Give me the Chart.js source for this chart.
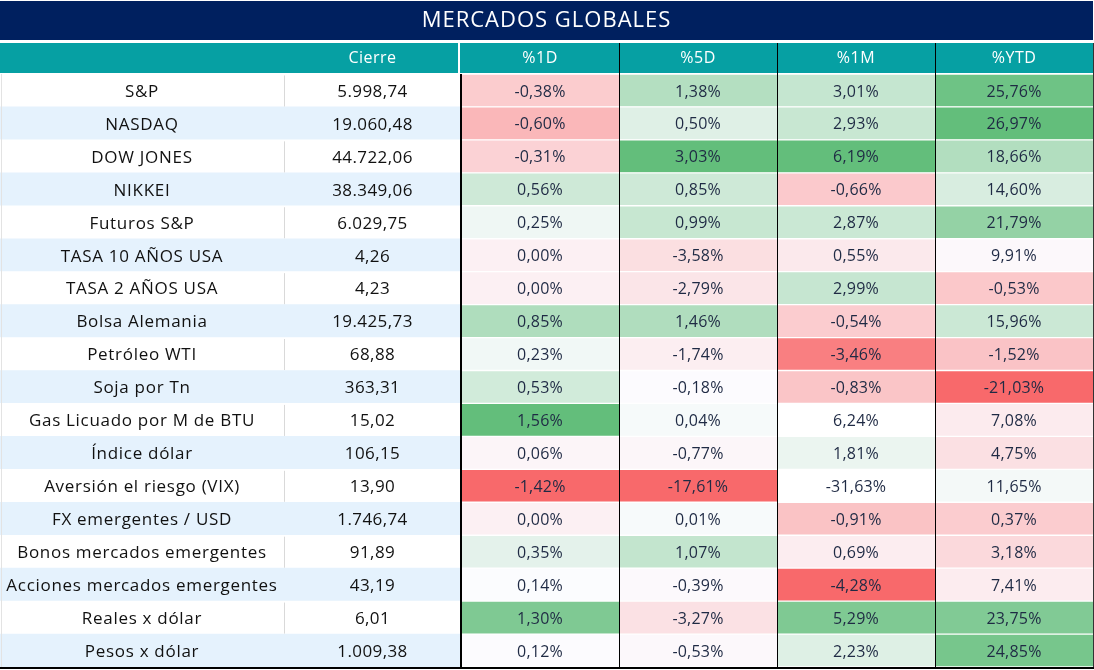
<!DOCTYPE html>
<html>
<head>
<meta charset="utf-8">
<script src="https://cdn.jsdelivr.net/npm/chart.js@4"></script>
<style>
  html, body { margin: 0; padding: 0; background: #fff; }
  canvas { display: block; }
</style>
</head>
<body>
<canvas id="chart" width="1094" height="670"></canvas>
<script>
const title = "MERCADOS GLOBALES";
const headers = ["", "Cierre", "%1D", "%5D", "%1M", "%YTD"];
const names = ["S&P", "NASDAQ", "DOW JONES", "NIKKEI", "Futuros S&P", "TASA 10 AÑOS USA",
  "TASA 2 AÑOS USA", "Bolsa Alemania", "Petróleo WTI", "Soja por Tn", "Gas Licuado por M de BTU",
  "Índice dólar", "Aversión el riesgo (VIX)", "FX emergentes / USD", "Bonos mercados emergentes",
  "Acciones mercados emergentes", "Reales x dólar", "Pesos x dólar"];
const cierre = [5998.74, 19060.48, 44722.06, 38349.06, 6029.75, 4.26, 4.23, 19425.73, 68.88,
  363.31, 15.02, 106.15, 13.90, 1746.74, 91.89, 43.19, 6.01, 1009.38];
const d1 = [-0.38, -0.60, -0.31, 0.56, 0.25, 0.00, 0.00, 0.85, 0.23, 0.53, 1.56, 0.06, -1.42, 0.00, 0.35, 0.14, 1.30, 0.12];
const d5 = [1.38, 0.50, 3.03, 0.85, 0.99, -3.58, -2.79, 1.46, -1.74, -0.18, 0.04, -0.77, -17.61, 0.01, 1.07, -0.39, -3.27, -0.53];
const m1 = [3.01, 2.93, 6.19, -0.66, 2.87, 0.55, 2.99, -0.54, -3.46, -0.83, 6.24, 1.81, -31.63, -0.91, 0.69, -4.28, 5.29, 2.23];
const ytd = [25.76, 26.97, 18.66, 14.60, 21.79, 9.91, -0.53, 15.96, -1.52, -21.03, 7.08, 4.75, 11.65, 0.37, 3.18, 7.41, 23.75, 24.85];
// cells left without colour scale in the original sheet [column, row]
const unformatted = [[2, 10], [2, 12]];

const heat = [d1, d5, m1, ytd];

// layout
const colWidths = [284, 177, 158, 158, 158, 158];
const edges = [0];
colWidths.forEach(w => edges.push(edges[edges.length - 1] + w));
const FONT = '"Open Sans", sans-serif';
const RED = [248, 105, 107], WHITE = [252, 252, 255], GREEN = [99, 190, 123];

function fmtNum(v) {
  const [i, d] = Math.abs(v).toFixed(2).split(".");
  return (v < 0 ? "-" : "") + i.replace(/\B(?=(\d{3})+(?!\d))/g, ".") + "," + d;
}
const fmtPct = v => fmtNum(v) + "%";

function median(arr) {
  const s = [...arr].sort((a, b) => a - b);
  const p = (s.length - 1) / 2;
  const lo = Math.floor(p);
  return s[lo] + (s[Math.ceil(p)] - s[lo]) * (p - lo);
}
function mix(a, b, t) {
  return "rgb(" + a.map((c, i) => Math.round(c + (b[i] - c) * t)).join(",") + ")";
}
// Excel style 3 colour scale: min red, median white, max green
function scaleColors(vals, k) {
  const skip = i => unformatted.some(u => u[0] === k && u[1] === i);
  const used = vals.filter((v, i) => !skip(i));
  const lo = Math.min(...used), hi = Math.max(...used), mid = median(used);
  return vals.map((v, i) => {
    if (skip(i)) return "#ffffff";
    if (v < mid) return mix(WHITE, RED, (mid - v) / (mid - lo));
    return mix(WHITE, GREEN, hi === mid ? 0 : (v - mid) / (hi - mid));
  });
}

const datasets = [{
  data: names.map(() => [edges[0], edges[2]]),
  backgroundColor: names.map((n, i) => i % 2 ? "#e5f2fd" : "#ffffff"),
  borderWidth: 0
}];
heat.forEach((vals, k) => {
  datasets.push({
    data: vals.map(() => [edges[k + 2], edges[k + 3]]),
    backgroundColor: scaleColors(vals, k),
    borderColor: "#ffffff",
    borderWidth: { top: 1, bottom: 1, left: 0, right: 0 },
    borderSkipped: false
  });
});

const tablePlugin = {
  id: "table",
  beforeDraw(chart) {
    const { ctx, chartArea } = chart;
    const x = chart.scales.x;
    ctx.save();
    ctx.fillStyle = "#ffffff";
    ctx.fillRect(0, 0, chart.width, chart.height);
    ctx.fillStyle = "#00205f";
    ctx.fillRect(0, 1, chartArea.right, 39);
    ctx.fillStyle = "#06a0a3";
    ctx.fillRect(0, 43, chartArea.right, 30);
    ctx.fillStyle = "#ffffff";
    ctx.textAlign = "center";
    ctx.textBaseline = "middle";
    ctx.letterSpacing = "1px";
    ctx.font = "500 22px " + FONT;
    ctx.fillText(title, (chartArea.left + chartArea.right) / 2, 21);
    ctx.letterSpacing = "0.5px";
    ctx.font = "500 16px " + FONT;
    headers.forEach((h, c) => {
      if (!h) return;
      ctx.fillText(h, x.getPixelForValue((edges[c] + edges[c + 1]) / 2), 58);
    });
    ctx.fillRect(Math.round(x.getPixelForValue(edges[2])) - 3, 43, 2, 30);
    ctx.restore();
  },
  afterDatasetsDraw(chart) {
    const { ctx, chartArea } = chart;
    const x = chart.scales.x, y = chart.scales.y;
    ctx.save();
    ctx.textAlign = "center";
    ctx.textBaseline = "middle";
    names.forEach((n, i) => {
      const py = y.getPixelForValue(i) + 1.5;
      ctx.fillStyle = "#111111";
      ctx.letterSpacing = "0.7px";
      ctx.font = "500 17px " + FONT;
      ctx.fillText(n, x.getPixelForValue((edges[0] + edges[1]) / 2), py);
      ctx.letterSpacing = "0.4px";
      ctx.fillText(fmtNum(cierre[i]), x.getPixelForValue((edges[1] + edges[2]) / 2), py);
      ctx.fillStyle = "#1f2a44";
      ctx.letterSpacing = "0.2px";
      ctx.font = "500 16px " + FONT;
      heat.forEach((vals, k) => {
        ctx.fillText(fmtPct(vals[i]), x.getPixelForValue((edges[k + 2] + edges[k + 3]) / 2), py);
      });
    });
    // grid lines
    const vline = (px, top, color, w) => {
      ctx.fillStyle = color;
      ctx.fillRect(Math.round(px) - Math.floor(w / 2), top, w, chartArea.bottom - top);
    };
    vline(x.getPixelForValue(edges[0]) + 0.5, chartArea.top, "#e3e3e3", 1);
    names.forEach((n, i) => {
      if (i % 2) return;
      const py = y.getPixelForValue(i);
      ctx.fillStyle = "#d9d9d9";
      ctx.fillRect(Math.round(x.getPixelForValue(edges[1])), py - 15, 1, 31);
    });
    vline(x.getPixelForValue(edges[2]), chartArea.top, "#000000", 2);
    for (let c = 3; c < edges.length - 1; c++) vline(x.getPixelForValue(edges[c]), 43, "#000000", 1);
    vline(x.getPixelForValue(edges[edges.length - 1]), 43, "#333333", 1);
    ctx.fillStyle = "#000000";
    ctx.fillRect(0, chartArea.bottom, chartArea.right + 1, 2);
    ctx.restore();
  }
};

new Chart(document.getElementById("chart"), {
  type: "bar",
  data: { labels: names, datasets },
  options: {
    responsive: false,
    animation: false,
    indexAxis: "y",
    layout: { padding: { top: 74, bottom: 3, left: 0, right: 1 } },
    datasets: { bar: { barPercentage: 1, categoryPercentage: 1, grouped: false } },
    scales: {
      x: { type: "linear", min: edges[0], max: edges[edges.length - 1], display: false },
      y: { display: false }
    },
    plugins: { legend: { display: false }, tooltip: { enabled: false }, title: { display: false } }
  },
  plugins: [tablePlugin]
});
</script>
</body>
</html>
